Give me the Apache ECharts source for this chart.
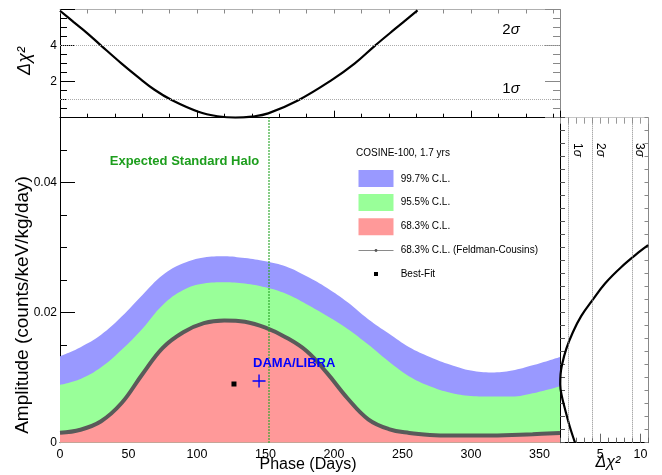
<!DOCTYPE html>
<html><head><meta charset="utf-8">
<script src="https://cdn.jsdelivr.net/npm/echarts@6/dist/echarts.min.js"></script>
<style>html,body{margin:0;padding:0;background:#fff}#c{width:662px;height:475px}</style>
</head><body><div id="c"></div>
<script>
// ---- data ----
const topPhase = [0, 10, 20, 30, 45, 57, 69, 81.5, 101, 115, 128, 140, 152, 174, 198, 215, 230, 245, 261];
const topDchi2 = [5.93, 5.3, 4.68, 4.0, 3.0, 2.25, 1.55, 0.98, 0.33, 0.08, 0, 0.06, 0.24, 0.97, 2.07, 3.0, 4.0, 4.95, 5.95];
const topSigmaLevels = [1, 4];

const bandPhase = [0, 15, 30, 45, 60, 75, 90, 105, 120, 135, 150, 165, 180, 195, 210, 225, 240, 255, 270, 285, 300, 315, 330, 345, 365];
const blueAmp  = [0.0133, 0.0147, 0.0166, 0.0194, 0.0227, 0.0258, 0.0276, 0.0285, 0.0287, 0.0284, 0.0279, 0.0271, 0.0256, 0.0238, 0.0216, 0.0190, 0.0168, 0.0147, 0.0132, 0.0120, 0.0111, 0.0108, 0.0111, 0.0119, 0.0132];
const greenAmp = [0.0089, 0.0098, 0.0116, 0.0143, 0.0175, 0.0212, 0.0235, 0.0245, 0.0247, 0.0245, 0.0239, 0.0229, 0.0213, 0.0195, 0.0175, 0.0151, 0.0125, 0.0102, 0.0087, 0.0077, 0.0072, 0.0071, 0.0071, 0.0076, 0.0087];
const fcAmp    = [0.00154, 0.0020, 0.0033, 0.0061, 0.0105, 0.0146, 0.0170, 0.0184, 0.0188, 0.0186, 0.0177, 0.0162, 0.0141, 0.0107, 0.0068, 0.0036, 0.0021, 0.0015, 0.0012, 0.0011, 0.0011, 0.0011, 0.0012, 0.0013, 0.0015];

const bestFit = [127, 0.00903];
const dama = [145.3, 0.0095];
const haloPhase = 152.5;

const rightAmp   = [0, 0.0025, 0.005, 0.0075, 0.009, 0.0105, 0.012, 0.0145, 0.017, 0.0195, 0.022, 0.0245, 0.027, 0.0295, 0.0304];
const rightDchi2 = [1.87, 1.21, 0.66, 0.17, 0.03, 0.07, 0.25, 0.8, 1.6, 2.65, 4.08, 5.6, 7.6, 10.0, 10.95];
const rightSigmaLevels = [1, 4, 9];

const legendLabels = ['99.7% C.L.', '95.5% C.L.', '68.3% C.L.', '68.3% C.L. (Feldman-Cousins)', 'Best-Fit'];
const legendTitle = 'COSINE-100, 1.7 yrs';

// ---- chart ----
const FONT = "'Liberation Sans', Arial, Helvetica, sans-serif";
const zip = (a, b) => a.map((v, i) => [v, b[i]]);
const BLUE = '#9999ff', GREEN = '#99ff99', RED = '#ff9999', GREY = '#5a5a5a';

function ax(o) {
  const base = {
    type: 'value', splitLine: { show: false },
    axisLine: { show: false, onZero: false, lineStyle: { color: '#000', width: 1 } },
    axisTick: { show: true, inside: true, length: 5, lineStyle: { color: '#000', width: 1 } },
    axisLabel: { show: false, color: '#000', fontFamily: FONT, fontSize: 12 },
    minorTick: { show: false }
  };
  const r = Object.assign({}, base, o);
  ['axisLine', 'axisTick', 'axisLabel', 'minorTick'].forEach(k => {
    if (o[k]) r[k] = Object.assign({}, base[k], o[k]);
  });
  return r;
}

const chart = echarts.init(document.getElementById('c'));
const option = {
  animation: false,
  backgroundColor: '#fff',
  grid: [
    { left: 60, top: 9.5, width: 500, height: 108.2 },
    { left: 60, top: 117.7, width: 500, height: 325 },
    { left: 560, top: 117.7, width: 88.5, height: 325 }
  ],
  xAxis: [
    ax({ gridIndex: 0, min: 0, max: 365, interval: 20, position: 'bottom', axisLine: { show: true }, axisTick: { length: 4 } }),
    ax({ gridIndex: 0, min: 0, max: 365, interval: 100, position: 'bottom', axisTick: { length: 7 } }),
    ax({ gridIndex: 0, min: 0, max: 365, interval: 20, position: 'top', axisLine: { show: true, lineStyle: { color: '#b0b0b0' } }, axisTick: { length: 4, lineStyle: { color: '#888' } } }),
    ax({ gridIndex: 1, min: 0, max: 365, interval: 10, position: 'bottom', axisLine: { show: true }, axisTick: { length: 5 } }),
    ax({ gridIndex: 1, min: 0, max: 365, interval: 50, position: 'bottom', axisTick: { length: 10 },
         axisLabel: { show: true, margin: 5, showMaxLabel: false, fontSize: 12.5 } }),
    ax({ gridIndex: 2, min: 0, max: 11, interval: 1, position: 'bottom', axisLine: { show: true }, axisTick: { length: 5, lineStyle: { color: '#666' } } }),
    ax({ gridIndex: 2, min: 0, max: 11, interval: 5, position: 'bottom', axisTick: { length: 9, lineStyle: { color: '#666' } },
         axisLabel: { show: true, margin: 5, fontSize: 12.5, showMinLabel: false, showMaxLabel: false } }),
    ax({ gridIndex: 2, min: 0, max: 11, interval: 1, position: 'top', axisLine: { show: true, lineStyle: { color: '#c8c8c8' } }, axisTick: { length: 6, lineStyle: { color: '#999' } } })
  ],
  yAxis: [
    ax({ gridIndex: 0, min: 0, max: 6, interval: 2, position: 'left', axisLine: { show: true }, axisTick: { length: 15 },
         minorTick: { show: true, splitNumber: 4, length: 7, lineStyle: { color: '#000' } },
         axisLabel: { show: true, margin: 3, fontSize: 12, formatter: v => (v === 2 || v === 4) ? String(v) : '' } }),
    ax({ gridIndex: 0, min: 0, max: 6, interval: 2, position: 'right', axisLine: { show: true, lineStyle: { color: '#888' } },
         axisTick: { length: 15, lineStyle: { color: '#888' } },
         minorTick: { show: true, splitNumber: 4, length: 7, lineStyle: { color: '#888' } } }),
    ax({ gridIndex: 1, min: 0, max: 0.05, interval: 0.005, position: 'left', axisLine: { show: true }, axisTick: { length: 7 } }),
    ax({ gridIndex: 1, min: 0, max: 0.05, interval: 0.02, position: 'left', axisTick: { length: 15 },
         axisLabel: { show: true, margin: 3, fontSize: 12, showMaxLabel: false } }),
    ax({ gridIndex: 2, min: 0, max: 0.05, interval: 0.002, position: 'left', axisLine: { show: true }, axisTick: { length: 5, lineStyle: { color: '#555' } } }),
    ax({ gridIndex: 2, min: 0, max: 0.05, interval: 0.002, position: 'right', axisLine: { show: true, lineStyle: { color: '#888' } }, axisTick: { length: 4, lineStyle: { color: '#888' } } })
  ],
  series: [
    { type: 'line', xAxisIndex: 0, yAxisIndex: 0, data: zip(topPhase, topDchi2), smooth: 0.4, symbol: 'none',
      lineStyle: { color: '#000', width: 2.2 }, z: 3,
      markLine: { silent: true, symbol: ['none', 'none'], label: { show: false },
        lineStyle: { type: 'dotted', color: '#aaa', width: 1 }, data: topSigmaLevels.map(v => ({ yAxis: v })) } },
    { type: 'line', xAxisIndex: 3, yAxisIndex: 2, data: zip(bandPhase, blueAmp), smooth: 0.4, symbol: 'none',
      lineStyle: { width: 0 }, areaStyle: { color: BLUE, opacity: 1, origin: 'start' } },
    { type: 'line', xAxisIndex: 3, yAxisIndex: 2, data: zip(bandPhase, greenAmp), smooth: 0.4, symbol: 'none',
      lineStyle: { width: 0 }, areaStyle: { color: GREEN, opacity: 1, origin: 'start' } },
    { type: 'line', xAxisIndex: 3, yAxisIndex: 2, data: zip(bandPhase, fcAmp), smooth: 0.4, symbol: 'none',
      lineStyle: { width: 0 }, areaStyle: { color: RED, opacity: 1, origin: 'start' } },
    { type: 'line', xAxisIndex: 3, yAxisIndex: 2, data: zip(bandPhase, fcAmp), smooth: 0.4, symbol: 'none',
      lineStyle: { color: GREY, width: 4 } },
    { type: 'scatter', xAxisIndex: 3, yAxisIndex: 2, data: [bestFit], symbol: 'rect', symbolSize: 5, z: 10,
      itemStyle: { color: '#000', opacity: 1 } },
    { type: 'scatter', xAxisIndex: 3, yAxisIndex: 2, data: [dama], z: 10,
      symbol: 'path://M0,6.25H14V7.75H0Z M6.25,0H7.75V14H6.25Z', symbolSize: 13,
      itemStyle: { color: '#0000ff', opacity: 1 },
      label: { show: true, formatter: 'DAMA/LIBRA', position: [0.5, -11], align: 'left', verticalAlign: 'middle',
        color: '#0000ff', fontWeight: 'bold', fontSize: 13, fontFamily: FONT },
      markLine: { silent: true, symbol: ['none', 'none'], label: { show: false },
        lineStyle: { type: 'dotted', color: '#2aa62a', width: 1.5 }, data: [{ xAxis: haloPhase }] } },
    { type: 'line', xAxisIndex: 5, yAxisIndex: 4, data: zip(rightDchi2, rightAmp), smooth: 0.4, symbol: 'none',
      lineStyle: { color: '#000', width: 2.2 }, z: 3,
      markLine: { silent: true, symbol: ['none', 'none'], label: { show: false },
        lineStyle: { type: 'dotted', color: '#888', width: 1 }, data: rightSigmaLevels.map(v => ({ xAxis: v })) } }
  ],
  graphic: [
    { type: 'text', x: 308, y: 465, style: { text: 'Phase (Days)', fontSize: 16, fontFamily: FONT, fill: '#000', align: 'center', verticalAlign: 'middle' } },
    { type: 'text', x: 23, y: 305, rotation: Math.PI / 2, style: { text: 'Amplitude (counts/keV/kg/day)', fontSize: 19, fontFamily: FONT, fill: '#000', align: 'center', verticalAlign: 'middle' } },
    { type: 'text', x: 25, y: 61, rotation: Math.PI / 2, style: { text: 'Δχ²', fontSize: 18, fontStyle: 'italic', fontFamily: FONT, fill: '#000', align: 'center', verticalAlign: 'middle' } },
    { type: 'text', x: 608, y: 463, style: { text: 'Δχ²', fontSize: 16, fontStyle: 'italic', fontFamily: FONT, fill: '#000', align: 'center', verticalAlign: 'middle' } },
    { type: 'text', x: 511, y: 30, style: { text: '2{s|σ}', rich: { s: { fontStyle: 'italic', fontSize: 15, fontFamily: FONT } }, fontSize: 15, fontFamily: FONT, fill: '#000', align: 'center', verticalAlign: 'middle' } },
    { type: 'text', x: 511, y: 88.5, style: { text: '1{s|σ}', rich: { s: { fontStyle: 'italic', fontSize: 15, fontFamily: FONT } }, fontSize: 15, fontFamily: FONT, fill: '#000', align: 'center', verticalAlign: 'middle' } },
    { type: 'text', x: 577.5, y: 150, rotation: -Math.PI / 2, style: { text: '1{s|σ}', rich: { s: { fontStyle: 'italic', fontSize: 12, fontFamily: FONT } }, fontSize: 12, fontFamily: FONT, fill: '#000', align: 'center', verticalAlign: 'middle' } },
    { type: 'text', x: 600, y: 150, rotation: -Math.PI / 2, style: { text: '2{s|σ}', rich: { s: { fontStyle: 'italic', fontSize: 12, fontFamily: FONT } }, fontSize: 12, fontFamily: FONT, fill: '#000', align: 'center', verticalAlign: 'middle' } },
    { type: 'text', x: 639.5, y: 150, rotation: -Math.PI / 2, style: { text: '3{s|σ}', rich: { s: { fontStyle: 'italic', fontSize: 12, fontFamily: FONT } }, fontSize: 12, fontFamily: FONT, fill: '#000', align: 'center', verticalAlign: 'middle' } },
    { type: 'text', x: 184.5, y: 161.7, style: { text: 'Expected Standard Halo', fontSize: 13, fontWeight: 'bold', fontFamily: FONT, fill: '#1d9e1d', align: 'center', verticalAlign: 'middle' } },
    { type: 'text', x: 356, y: 153.3, style: { text: legendTitle, fontSize: 10, fontFamily: FONT, fill: '#000', align: 'left', verticalAlign: 'middle' } },
    { type: 'rect', shape: { x: 358.5, y: 170, width: 35, height: 17 }, style: { fill: BLUE } },
    { type: 'rect', shape: { x: 358.5, y: 194, width: 35, height: 17 }, style: { fill: GREEN } },
    { type: 'rect', shape: { x: 358.5, y: 218.3, width: 35, height: 17 }, style: { fill: RED } },
    { type: 'line', shape: { x1: 358.5, y1: 250.5, x2: 393.5, y2: 250.5 }, style: { stroke: '#8a8a8a', lineWidth: 1 } },
    { type: 'circle', shape: { cx: 376, cy: 250.5, r: 1.4 }, style: { fill: '#555' } },
    { type: 'rect', shape: { x: 374, y: 272, width: 4, height: 4 }, style: { fill: '#000' } },
    { type: 'text', x: 400.7, y: 179, style: { text: legendLabels[0], fontSize: 10, fontFamily: FONT, fill: '#000', align: 'left', verticalAlign: 'middle' } },
    { type: 'text', x: 400.7, y: 202.7, style: { text: legendLabels[1], fontSize: 10, fontFamily: FONT, fill: '#000', align: 'left', verticalAlign: 'middle' } },
    { type: 'text', x: 400.7, y: 226.7, style: { text: legendLabels[2], fontSize: 10, fontFamily: FONT, fill: '#000', align: 'left', verticalAlign: 'middle' } },
    { type: 'text', x: 400.7, y: 250.3, style: { text: legendLabels[3], fontSize: 10, fontFamily: FONT, fill: '#000', align: 'left', verticalAlign: 'middle' } },
    { type: 'text', x: 400.7, y: 274, style: { text: legendLabels[4], fontSize: 10, fontFamily: FONT, fill: '#000', align: 'left', verticalAlign: 'middle' } }
  ]
};
chart.setOption(option);
</script>
</body></html>
